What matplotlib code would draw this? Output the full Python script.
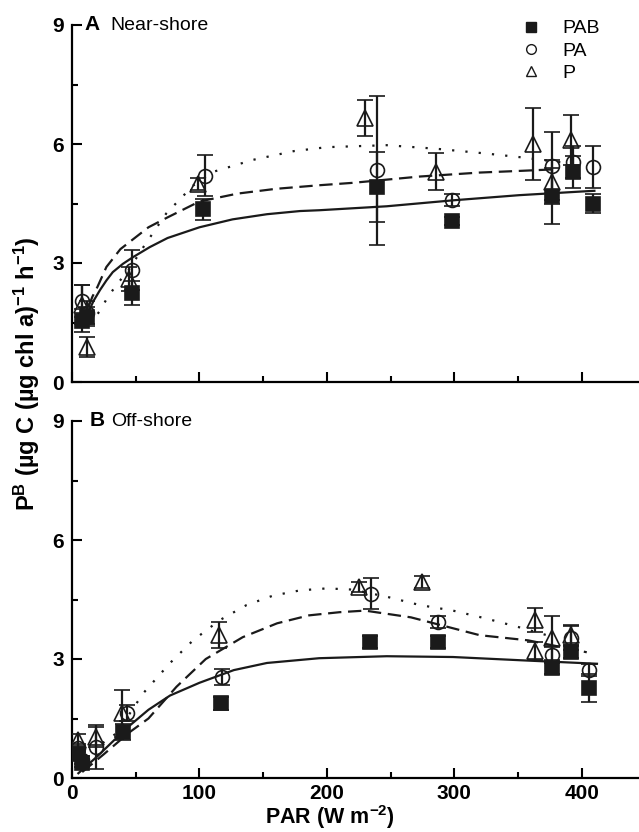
import matplotlib
matplotlib.use("Agg")
import matplotlib.pyplot as plt
from matplotlib.lines import Line2D
from matplotlib.ticker import MultipleLocator

plt.rcParams['font.family'] = ['Liberation Sans', 'DejaVu Sans']
plt.rcParams['mathtext.fontset'] = 'custom'
plt.rcParams['mathtext.rm'] = 'Liberation Sans:bold'
plt.rcParams['mathtext.default'] = 'rm'

# ---- A: near-shore, measured points (PAR, P^B, error) ----
a_pab_x = [8, 12, 47, 103, 239, 298, 377, 393, 409]
a_pab_y = [1.55, 1.65, 2.25, 4.35, 4.92, 4.05, 4.69, 5.30, 4.50]
a_pab_e = [0.30, 0.25, 0.30, 0.27, 0.88, 0.10, 0.70, 0.40, 0.25]

a_pa_x = [8, 12, 47, 104, 239, 298, 377, 393, 409]
a_pa_y = [2.05, 1.75, 2.82, 5.20, 5.34, 4.58, 5.44, 5.55, 5.42]
a_pa_e = [0.40, 0.30, 0.50, 0.52, 1.88, 0.15, 0.85, 0.40, 0.52]

a_p_x = [8, 12, 45, 99, 230, 286, 362, 377, 392]
a_p_y = [1.95, 0.88, 2.60, 5.00, 6.65, 5.30, 6.00, 5.04, 6.10]
a_p_e = [0.50, 0.25, 0.30, 0.15, 0.45, 0.47, 0.92, 0.55, 0.63]

# fitted curves
a_fit_pab_x = [13, 17, 22, 27, 32, 40, 48, 61, 75, 100, 126, 153, 179, 194, 247, 299, 351, 404, 410]
a_fit_pab_y = [1.77, 2.05, 2.32, 2.56, 2.77, 2.98, 3.15, 3.40, 3.63, 3.90, 4.10, 4.23, 4.31, 4.33, 4.43, 4.58, 4.71, 4.81, 4.82]
a_fit_pa_x = [13, 16, 20, 27, 38, 50, 60, 75, 100, 130, 160, 194, 220, 273, 320, 350, 378]
a_fit_pa_y = [1.90, 2.15, 2.40, 2.90, 3.35, 3.65, 3.90, 4.15, 4.55, 4.75, 4.87, 4.96, 5.02, 5.18, 5.28, 5.32, 5.36]
a_fit_p_x = [14, 22, 28, 35, 45, 56, 74, 95, 111, 142, 174, 200, 247, 286, 325, 351, 393]
a_fit_p_y = [1.45, 1.80, 2.14, 2.45, 2.85, 3.40, 4.25, 4.95, 5.30, 5.60, 5.82, 5.92, 5.97, 5.88, 5.76, 5.67, 5.50]

# ---- B: off-shore ----
b_pab_x = [5, 8, 40, 117, 234, 287, 377, 392, 406]
b_pab_y = [0.60, 0.38, 1.15, 1.88, 3.43, 3.43, 2.77, 3.17, 2.26]
b_pab_e = [0.15, 0.10, 0.20, 0.17, 0.15, 0.15, 0.15, 0.15, 0.35]

b_pa_x = [5, 8, 19, 43, 118, 235, 287, 377, 392, 406]
b_pa_y = [0.75, 0.45, 0.78, 1.63, 2.55, 4.65, 3.93, 3.10, 3.53, 2.72]
b_pa_e = [0.10, 0.10, 0.55, 0.20, 0.20, 0.38, 0.15, 0.20, 0.30, 0.15]

b_p_x = [5, 19, 39, 115, 225, 275, 363, 363, 377, 392]
b_p_y = [0.95, 1.03, 1.63, 3.60, 4.82, 4.94, 3.98, 3.20, 3.53, 3.60]
b_p_e = [0.15, 0.25, 0.60, 0.33, 0.12, 0.15, 0.30, 0.22, 0.55, 0.25]

b_fit_pab_x = [5, 20, 43, 60, 77, 100, 127, 153, 194, 247, 299, 351, 412]
b_fit_pab_y = [0.12, 0.55, 1.26, 1.72, 2.08, 2.40, 2.72, 2.90, 3.02, 3.07, 3.05, 2.97, 2.88]
b_fit_pa_x = [8, 25, 45, 60, 82, 105, 134, 161, 186, 210, 230, 266, 320, 358, 404]
b_fit_pa_y = [0.15, 0.60, 1.15, 1.50, 2.30, 3.00, 3.55, 3.90, 4.10, 4.18, 4.22, 4.05, 3.60, 3.47, 3.17]
b_fit_p_x = [24, 35, 56, 77, 95, 116, 137, 158, 179, 200, 220, 247, 273, 299, 325, 351, 377]
b_fit_p_y = [0.88, 1.13, 2.14, 2.90, 3.47, 3.98, 4.36, 4.60, 4.73, 4.78, 4.75, 4.57, 4.36, 4.22, 4.02, 3.80, 3.56]

labels = ['PAB', 'PA', 'P']
markers = ['s', 'o', '^']

fig = plt.figure(figsize=(6.39, 8.32), dpi=100)
ax_a = fig.add_axes([72 / 639, 450 / 832, 567 / 639, 357 / 832])
ax_b = fig.add_axes([72 / 639, 54 / 832, 567 / 639, 357 / 832])


def draw_panel(ax, pts, fits):
    for (x, y, e), m in zip(pts, markers):
        filled = m == 's'
        ax.errorbar(x, y, yerr=e, fmt=m, ms=10 if m != '^' else 12,
                    mfc='#1a1a1a' if filled else 'none', mec='#1a1a1a', mew=1.2,
                    ecolor='#1a1a1a', elinewidth=1.6, capsize=6, capthick=1.6,
                    zorder=3)
    styles = ['-', (0, (6, 3)), (0, (1, 5))]
    for (fx, fy), ls in zip(fits, styles):
        ax.plot(fx, fy, color='#1a1a1a', lw=1.6, ls=ls, zorder=2)

    ax.set_xlim(0, 445)
    ax.set_ylim(0, 9)
    for s in ['top', 'right']:
        ax.spines[s].set_visible(False)
    for s in ['left', 'bottom']:
        ax.spines[s].set_linewidth(1.6)
    ax.xaxis.set_major_locator(MultipleLocator(100))
    ax.xaxis.set_minor_locator(MultipleLocator(50))
    ax.yaxis.set_major_locator(MultipleLocator(3))
    ax.yaxis.set_minor_locator(MultipleLocator(1.5))
    ax.tick_params(which='both', direction='in', width=1.5)
    ax.tick_params(which='major', length=7, labelsize=15, pad=6)
    ax.tick_params(axis='x', which='major', pad=4)
    ax.tick_params(which='minor', length=4)
    for lab in ax.get_xticklabels() + ax.get_yticklabels():
        lab.set_fontweight('bold')


draw_panel(ax_a,
           [(a_pab_x, a_pab_y, a_pab_e), (a_pa_x, a_pa_y, a_pa_e), (a_p_x, a_p_y, a_p_e)],
           [(a_fit_pab_x, a_fit_pab_y), (a_fit_pa_x, a_fit_pa_y), (a_fit_p_x, a_fit_p_y)])
draw_panel(ax_b,
           [(b_pab_x, b_pab_y, b_pab_e), (b_pa_x, b_pa_y, b_pa_e), (b_p_x, b_p_y, b_p_e)],
           [(b_fit_pab_x, b_fit_pab_y), (b_fit_pa_x, b_fit_pa_y), (b_fit_p_x, b_fit_p_y)])
ax_a.tick_params(axis='x', labelbottom=False)

ax_a.text(10, 9, 'A', fontsize=15, fontweight='bold', va='center', ha='left')
ax_a.text(30, 9, 'Near-shore', fontsize=14, va='center', ha='left')
ax_b.text(14, 9, 'B', fontsize=15, fontweight='bold', va='center', ha='left')
ax_b.text(31, 9, 'Off-shore', fontsize=14, va='center', ha='left')

handles = [Line2D([], [], ls='none', marker='s', ms=7, mfc='#1a1a1a', mec='#1a1a1a'),
           Line2D([], [], ls='none', marker='o', ms=7, mfc='none', mec='#1a1a1a'),
           Line2D([], [], ls='none', marker='^', ms=7, mfc='none', mec='#1a1a1a')]
ax_a.legend(handles, labels, loc='upper left', bbox_to_anchor=(510 / 639, 1 - 10 / 832),
            bbox_transform=fig.transFigure, frameon=False, fontsize=14,
            handlelength=1.2, handletextpad=1.0, labelspacing=0.25, borderpad=0)

fig.text(330 / 639, 8 / 832, r'PAR (W m$^{-2}$)', fontsize=15.5, fontweight='bold',
         ha='center', va='baseline')
fig.text(27 / 639, 458 / 832, r'P$^{B}$ (µg C (µg chl a)$^{-1}$ h$^{-1}$)',
         fontsize=17, fontweight='bold', rotation=90, ha='center', va='center')

fig.savefig('out.png', dpi=100)
